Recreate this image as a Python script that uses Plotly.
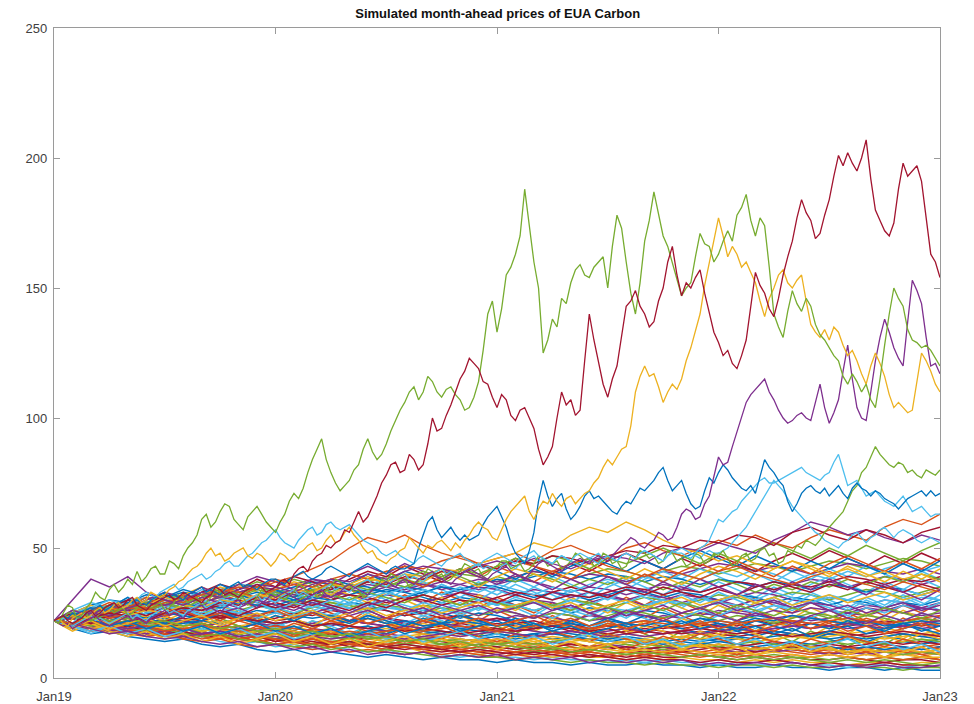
import pandas as pd
import plotly.graph_objects as go

# ---- time grids -------------------------------------------------------------
START, END = "2019-01-01", "2023-01-01"
fine_dates = pd.date_range(START, END, periods=193)    # quarter-month steps
month_dates = pd.date_range(START, END, periods=49)    # monthly steps

# ---- highlighted simulated paths (quarter-month steps, EUR/t) --------------
green_high = [22,21,25,28,27,23,24,27,29,33,31,30,34,36,33,35,38,36,41,37,39,42,43,40,40,45,44,42,47,50,52,55,61,63,58,60,64,67,66,61,59,57,62,64,66,63,60,58,56,
              60,63,68,71,69,73,79,84,88,92,84,79,75,72,74,76,80,82,88,92,87,84,86,90,95,99,103,106,110,112,107,110,116,114,110,108,111,112,109,107,103,104,108,114,126,140,145,133,
              142,155,158,163,170,188,173,160,150,125,130,138,135,146,144,152,157,159,155,154,158,160,162,150,166,178,173,160,148,140,152,168,176,187,178,170,166,160,154,147,150,152,162,171,167,166,160,163,
              168,172,168,178,181,186,176,170,177,174,158,140,135,131,141,149,144,141,146,143,136,132,130,127,124,122,116,113,117,114,110,113,107,104,115,128,140,150,146,143,134,130,129,127,128,126,123,120]
red_high = [22,23,24,22,21,22,23,25,26,24,25,27,28,29,27,28,30,31,28,27,26,28,29,30,31,32,30,31,33,32,31,30,29,31,32,35,34,32,33,32,31,33,34,35,36,35,33,34,35,
            37,38,36,40,42,43,41,45,47,48,51,50,52,53,57,56,60,64,60,62,66,70,75,78,82,83,79,80,86,84,80,82,90,100,95,96,101,105,110,115,118,123,121,119,114,113,108,104,
            109,107,101,99,103,104,100,96,88,82,85,89,100,110,105,107,101,103,122,140,130,122,113,108,115,120,131,143,145,149,143,140,135,137,145,150,160,166,155,147,152,150,154,157,148,141,133,129,
            124,126,121,119,124,130,143,156,151,148,142,139,146,155,162,168,177,184,179,176,169,171,178,184,193,201,197,202,198,195,200,207,192,180,176,172,170,175,188,198,193,195,197,191,178,163,160,154]
yellow_high = [22,23,21,20,23,24,25,23,24,26,27,25,26,28,29,27,28,30,31,29,30,33,32,31,32,34,35,37,38,40,42,43,45,48,50,47,48,45,46,48,49,50,47,46,48,47,45,43,45,
               48,47,45,46,48,49,51,52,49,50,53,55,52,53,56,58,55,53,50,48,49,46,45,44,46,47,49,50,54,52,50,48,51,50,52,53,51,49,52,50,53,55,58,60,58,57,54,53,
               57,61,64,66,68,70,64,61,65,68,67,71,68,66,69,70,67,69,71,72,75,77,81,84,82,85,88,89,97,110,116,120,116,117,112,106,110,113,111,115,122,127,134,140,151,160,168,177,
               170,162,166,163,158,160,156,152,145,139,146,150,155,157,152,150,153,155,145,136,133,131,134,130,135,133,128,124,126,122,117,113,120,125,121,116,109,104,106,104,102,103,114,125,122,118,113,110]
purple_high = [22,21,20,21,19,20,21,22,23,24,22,21,20,21,22,23,24,22,23,22,21,23,24,25,26,24,25,24,23,25,26,27,28,26,27,26,25,27,28,29,30,28,29,28,27,29,30,32,31,
               32,33,32,31,30,29,31,32,33,34,32,31,32,33,35,36,35,34,33,32,34,35,36,37,36,35,37,38,37,36,38,39,40,41,39,38,37,36,38,39,41,42,41,40,39,38,40,41,
               42,43,41,40,39,38,40,42,44,45,44,43,42,41,43,44,45,46,45,44,46,47,46,45,47,49,51,52,54,53,51,50,52,53,56,55,53,54,58,63,65,64,61,62,67,70,78,85,
               82,83,89,95,101,106,109,111,113,115,110,107,103,100,98,99,101,102,100,99,106,113,104,98,102,107,118,128,115,104,100,99,110,122,131,138,133,127,123,120,137,153,149,144,131,120,121,117]
blue_high = [22,23,24,23,25,24,23,25,26,27,28,26,27,28,29,30,31,29,30,29,28,30,31,32,33,31,32,31,30,32,33,34,35,33,34,33,32,34,35,36,37,35,36,35,34,36,37,38,38,
             37,36,38,39,40,41,39,38,39,40,42,43,42,41,40,39,41,42,43,44,43,42,41,40,42,43,42,42,43,44,50,55,60,62,57,54,56,58,55,53,55,53,54,55,59,62,64,66,
             62,58,52,48,46,44,49,56,68,76,70,66,69,71,65,61,63,66,70,72,69,70,68,66,64,63,66,68,67,70,73,72,74,76,79,81,76,72,74,76,71,67,65,66,72,77,75,79,
             82,80,77,75,73,72,74,71,78,84,81,79,76,74,68,64,67,71,73,74,72,71,73,70,72,74,71,69,73,75,73,72,70,72,71,69,68,67,65,67,69,70,71,72,70,72,70,71]
lightblue_high = [22,22,23,22,21,23,24,25,26,24,25,26,27,28,29,27,28,29,30,32,33,32,31,33,34,35,36,34,35,37,38,39,40,38,39,41,42,44,45,43,43,45,47,48,50,52,53,55,57,
                  54,52,51,50,53,55,57,58,55,56,59,60,58,57,58,59,57,55,53,52,51,50,48,47,48,49,47,46,45,44,46,47,46,45,44,43,45,46,47,48,46,45,44,43,45,46,47,48,
                  47,46,45,44,46,47,48,49,47,46,45,44,46,47,46,45,47,48,47,46,45,44,46,47,46,45,47,48,47,46,48,49,48,47,46,45,47,49,48,48,47,46,48,50,51,53,57,61,
                  60,62,64,65,68,70,72,74,76,77,75,75,76,77,78,79,80,81,79,78,77,76,78,79,83,86,80,74,75,76,73,70,71,72,70,68,67,66,68,70,67,64,65,66,64,62,63,63]
lightblue_mid = [22,21,21,20,20,21,22,23,24,22,23,22,21,22,23,24,25,23,24,23,22,24,25,26,27,25,26,25,24,26,27,28,29,27,28,29,30,28,29,28,27,29,30,31,32,30,31,30,29,
                 31,32,33,34,32,33,32,31,33,34,35,36,34,35,34,33,35,36,37,38,36,37,36,35,37,38,39,40,38,39,38,37,39,40,41,42,40,41,40,39,41,42,43,44,42,43,42,41,
                 43,44,43,42,44,45,46,47,45,46,45,44,46,47,46,45,44,43,45,46,47,48,46,47,46,45,47,48,47,46,48,49,48,47,46,45,47,48,49,50,49,48,47,46,48,49,48,48,
                 49,50,52,54,56,58,61,64,67,70,73,76,74,72,69,66,64,62,60,58,56,55,53,52,51,50,52,53,55,56,54,52,54,55,57,58,56,54,56,57,56,55,53,52,53,54,53,52]
green_mid = [22,21,23,25,25,23,24,25,22,23,25,27,27,25,26,27,24,25,27,29,29,27,28,29,26,27,29,32,31,29,30,31,28,29,31,34,33,31,32,33,30,31,28,29,31,34,33,31,32,
             31,30,32,33,36,35,33,34,31,32,34,35,38,37,35,36,33,34,31,32,34,35,38,37,40,39,37,38,35,36,38,39,42,41,39,40,37,38,40,41,44,43,41,42,39,40,42,43,
             45,45,42,43,44,41,42,44,47,46,43,44,45,42,43,45,48,47,45,46,43,44,48,47,44,45,42,43,47,46,49,48,46,47,44,45,49,48,45,46,43,44,48,47,44,45,48,47,
             49,46,43,44,47,48,45,46,49,50,47,48,44,45,49,48,51,50,53,52,51,53,56,58,60,62,64,68,72,74,79,81,85,89,86,84,82,81,83,82,79,80,78,77,80,79,78,80]

# ---- remaining simulated paths (monthly steps, EUR/t) ----------------------
orange_a = [22,24,23,26,28,27,30,29,32,34,33,31,34,36,35,38,40,38,41,43,42,45,47,44,46,48,45,49,51,48,46,50,52,49,47,50,53,51,55,52,50,54,57,55,53,58,61,59,63]
orange_b = [22,21,23,25,27,26,29,31,30,33,35,34,37,39,42,45,50,54,52,55,51,48,46,44,42,45,43,41,44,46,43,41,39,42,40,38,41,43,40,38,36,39,41,38,36,34,37,35,33]
yellow_b = [22,24,23,21,24,26,25,28,27,30,29,32,31,34,33,36,35,38,37,40,39,42,41,44,46,48,52,50,55,58,56,60,57,53,50,48,45,47,44,42,45,43,40,42,39,41,38,40,37]
purple_b = [22,30,38,35,39,33,30,28,31,29,27,30,28,26,29,27,25,28,30,27,25,28,26,24,27,25,23,26,28,25,23,26,24,22,25,27,24,22,25,23,21,24,26,23,21,24,22,25,23]
purple_c = [22,23,25,24,27,29,28,30,33,31,34,36,35,33,36,38,37,40,38,41,43,42,40,43,45,43,46,44,42,45,47,46,44,48,50,49,52,50,48,53,56,60,58,55,57,54,52,55,53]
red_c = [22,20,23,25,24,22,25,27,26,29,28,31,30,33,32,35,34,37,36,39,38,41,40,43,42,45,44,47,46,44,47,49,48,51,50,53,52,55,54,51,56,58,55,53,57,55,52,56,58]

low_01 = [22,19,17,18,16,15,14,15,13,12,13,11,10,11,9,10,9,8,9,8,7,8,7,7,6,7,6,6,5,6,5,5,6,5,5,4,5,4,4,5,4,4,3,4,4,3,4,3,3]
low_02 = [22,20,21,18,17,18,16,15,16,14,13,14,12,13,11,12,11,10,11,9,10,9,8,9,8,8,7,8,7,7,6,7,6,7,6,6,5,6,5,5,6,5,5,4,5,5,4,5,4]
low_03 = [22,23,20,19,20,18,17,18,16,17,15,14,15,13,14,12,13,12,11,12,10,11,10,9,10,9,9,8,9,8,8,7,8,7,8,7,7,6,7,6,7,6,6,5,6,6,5,6,6]
low_04 = [22,21,19,20,18,19,17,16,17,15,16,14,13,14,12,13,14,12,11,12,11,10,11,10,9,10,9,10,9,8,9,8,9,8,8,9,8,7,8,7,8,7,7,8,7,6,7,7,6]
low_05 = [22,24,22,20,21,19,20,18,19,17,18,16,17,15,16,14,15,13,14,13,12,13,12,11,12,11,10,11,10,11,10,9,10,9,10,9,8,9,8,9,8,8,7,8,7,8,7,8,7]
low_06 = [22,20,18,19,17,16,17,15,14,15,13,12,13,12,11,12,10,11,10,9,10,9,10,9,8,9,8,9,10,9,8,9,8,9,10,9,10,9,10,11,10,9,10,9,10,11,10,9,10]
low_07 = [22,21,23,21,19,20,18,17,18,16,15,16,14,15,13,14,12,13,12,11,12,11,12,13,12,11,12,11,10,11,12,11,10,11,10,11,12,11,10,11,12,11,12,11,12,13,12,11,12]
low_08 = [22,23,21,22,20,18,19,17,18,16,17,15,16,14,15,13,14,13,12,13,14,13,12,13,14,13,12,11,12,11,12,13,12,11,12,13,12,13,14,13,12,13,14,13,14,13,14,15,14]
low_09 = [22,24,23,21,22,20,21,19,20,18,19,17,18,16,17,15,16,15,14,15,16,15,14,15,14,13,14,15,14,15,16,15,14,15,16,15,16,15,14,15,16,15,16,17,16,15,16,17,16]
low_10 = [22,20,21,19,20,18,17,18,16,17,15,16,14,15,14,13,14,13,12,13,12,11,10,11,10,9,10,9,8,9,8,7,8,7,7,6,7,6,6,7,6,5,6,5,5,6,5,5,4]
low_11 = [22,21,20,21,19,18,19,17,16,17,15,14,13,12,13,11,12,10,11,10,9,8,9,8,8,7,8,7,6,7,6,6,5,6,5,5,4,5,5,4,5,4,4,5,4,4,3,4,4]
low_12 = [22,23,24,22,23,21,22,20,21,19,20,18,19,17,18,16,17,15,16,15,14,15,13,14,13,12,13,12,11,12,11,10,11,10,11,10,9,10,9,10,9,8,9,8,9,8,9,8,8]

mid_01 = [22,24,26,25,23,24,22,23,21,22,20,21,19,20,18,19,17,18,19,18,17,18,16,17,18,17,16,17,18,17,16,17,16,15,16,17,16,17,18,17,16,17,18,17,18,19,18,17,18]
mid_02 = [22,21,23,22,24,23,21,22,24,23,25,24,22,23,25,24,22,21,23,22,20,21,19,20,21,20,19,20,18,19,20,19,21,20,19,20,21,20,22,21,20,21,19,20,21,22,21,20,21]
mid_03 = [22,20,19,21,20,22,21,19,20,18,19,21,20,22,21,23,22,24,23,21,22,20,21,23,22,24,23,25,24,22,23,21,22,24,23,25,24,26,25,23,24,22,23,25,24,26,25,24,25]
mid_04 = [22,23,22,20,21,19,18,19,17,18,16,17,15,16,17,16,15,16,14,15,16,15,14,15,16,15,16,17,16,15,16,15,14,15,16,15,14,15,14,13,14,13,14,15,14,13,14,13,14]
mid_05 = [22,24,23,25,27,26,24,25,23,24,22,23,21,22,20,21,22,21,20,21,19,20,21,20,19,18,19,20,19,18,17,18,19,18,17,18,17,16,17,18,17,16,17,16,17,18,17,16,17]
mid_06 = [22,21,20,18,19,17,18,19,18,20,19,21,20,19,21,20,22,21,20,22,21,23,22,21,23,22,24,23,22,24,23,25,24,23,25,24,26,25,24,26,25,27,26,25,27,26,28,27,26]
mid_07 = [22,23,21,22,20,21,23,22,21,19,20,18,19,17,18,16,17,18,17,19,18,17,19,18,17,16,17,15,16,15,14,15,14,13,14,13,14,13,12,13,12,13,12,11,12,11,12,11,12]
mid_08 = [22,20,22,24,23,25,24,26,25,23,24,22,23,25,24,26,25,27,26,24,25,23,24,22,23,21,22,20,21,19,20,21,20,19,20,21,20,19,20,21,22,21,20,21,22,21,22,23,22]
mid_09 = [22,24,25,23,24,22,21,22,20,21,19,18,19,18,17,18,17,16,17,16,15,16,15,14,15,14,13,14,13,12,13,12,11,12,11,12,11,10,11,10,11,10,9,10,9,10,9,10,9]
mid_10 = [22,21,22,20,21,19,20,21,22,21,23,22,21,22,20,21,19,20,18,19,17,18,17,16,17,16,17,18,17,16,15,16,15,14,15,14,15,16,15,16,17,16,15,16,15,16,17,16,15]
mid_11 = [22,23,25,24,22,23,21,20,21,19,20,18,17,18,16,17,16,15,16,14,15,14,13,14,13,12,13,12,13,12,11,12,11,12,13,12,13,12,13,14,13,12,13,12,13,14,13,14,13]
mid_12 = [22,20,19,20,18,17,18,16,17,18,17,19,18,17,19,18,20,19,18,20,19,21,20,19,18,19,18,17,18,17,16,17,16,17,18,17,18,19,18,19,20,19,20,19,20,21,20,19,20]
mid_13 = [22,24,23,22,24,23,25,24,23,25,24,26,25,24,23,24,22,23,21,22,20,21,22,21,20,21,19,20,21,20,22,21,20,22,21,23,22,21,23,22,24,23,22,21,22,20,21,22,21]
mid_14 = [22,21,19,20,21,20,19,20,18,19,17,18,19,18,17,18,16,17,15,16,17,16,15,14,15,14,15,16,15,14,13,14,15,14,13,12,13,12,11,12,11,12,11,10,11,10,11,10,11]
mid_15 = [22,23,22,24,23,21,22,23,22,24,23,22,21,22,20,21,20,19,20,18,19,18,17,18,19,18,19,20,19,18,19,17,18,17,18,19,18,17,18,17,16,17,18,17,16,17,18,17,16]
mid_16 = [22,20,21,22,21,20,18,19,20,19,18,19,20,19,18,17,18,17,18,19,18,19,20,19,18,19,20,21,20,19,20,21,22,21,20,21,22,21,22,23,22,21,22,23,22,21,22,23,24]

up_01 = [22,25,27,26,29,31,30,28,31,33,32,30,32,34,33,31,34,36,35,33,35,37,36,34,36,38,37,35,33,35,34,32,34,36,35,33,35,37,36,34,36,38,37,35,37,39,38,36,38]
up_02 = [22,24,26,28,27,30,32,31,29,31,33,35,34,32,34,36,35,37,39,38,36,38,40,39,37,39,41,40,38,40,42,41,39,41,43,42,40,42,44,43,41,43,45,44,42,44,46,45,43]
up_03 = [22,23,25,24,27,26,28,27,29,31,30,28,30,29,31,33,32,30,32,31,29,31,33,32,30,28,30,29,27,29,31,30,28,30,32,31,29,31,33,32,30,29,31,30,28,30,29,27,29]
up_04 = [22,21,23,25,24,26,28,27,25,27,29,28,26,28,30,29,27,29,28,26,28,27,25,27,29,28,26,28,30,29,27,29,31,30,28,30,32,31,29,31,33,32,30,32,34,33,31,33,35]
up_05 = [22,24,23,25,27,29,28,26,28,30,29,31,33,32,30,32,34,33,35,37,36,34,36,38,37,39,41,40,38,40,39,37,39,41,40,42,44,43,41,43,42,40,42,44,43,41,40,42,40]
up_06 = [22,25,24,26,25,23,25,27,26,24,26,28,27,25,27,29,28,26,28,27,25,27,26,24,26,25,23,25,24,22,24,26,25,23,25,24,22,24,23,21,23,25,24,22,24,23,21,23,22]
up_07 = [22,23,26,25,27,29,28,30,32,31,33,35,34,36,38,37,35,37,36,34,36,35,33,35,34,32,34,33,31,33,32,30,32,31,29,31,30,28,30,29,27,29,28,26,28,27,25,27,26]
up_08 = [22,21,22,24,23,25,24,26,28,27,29,28,27,29,31,30,32,34,33,31,33,35,34,36,38,37,39,41,40,38,40,39,37,39,38,36,38,37,35,37,36,34,36,35,33,35,34,32,34]
up_09 = [22,24,27,26,28,27,25,27,26,28,30,29,27,29,28,30,32,31,29,31,30,28,30,29,31,33,32,30,32,31,33,35,34,32,34,33,35,37,36,34,36,35,37,39,38,36,38,37,39]
up_10 = [22,20,22,24,23,25,27,26,24,26,25,23,25,24,26,28,27,25,27,26,24,26,25,27,29,28,26,28,27,25,27,26,28,30,29,27,29,28,26,28,27,29,31,30,28,30,29,31,30]
up_11 = [22,25,23,27,30,28,32,29,33,36,34,38,35,39,37,34,38,41,39,43,40,37,41,44,42,46,43,40,44,41,45,48,45,42,46,43,47,44,41,45,48,45,49,46,43,47,44,48,45]
up_12 = [22,24,27,25,29,27,31,34,32,36,33,30,34,31,35,38,36,40,37,41,39,42,40,44,41,38,42,39,43,46,44,41,45,42,46,49,46,43,47,44,41,45,42,46,43,40,44,41,45]
up_13 = [22,23,26,29,27,31,28,32,30,33,31,35,38,36,33,37,34,38,41,38,35,39,42,39,43,40,37,41,38,42,39,36,40,37,41,44,41,45,42,39,43,40,44,47,44,41,45,42,46]
up_14 = [22,21,24,27,25,28,31,29,32,35,33,30,34,37,35,32,36,39,36,40,37,41,38,35,39,42,40,37,41,44,41,38,42,39,36,40,43,41,38,42,45,42,39,43,40,37,41,38,42]
up_15 = [22,26,24,28,26,30,33,31,35,32,36,39,37,34,38,36,40,43,40,44,41,38,42,39,36,40,37,34,38,35,39,36,33,37,34,38,35,32,36,33,37,34,38,35,32,36,33,30,34]
up_16 = [22,24,22,25,28,26,29,27,30,33,31,34,32,29,33,36,34,37,35,38,41,39,42,40,43,46,44,47,45,42,46,44,47,50,47,44,48,45,49,52,49,46,50,47,51,48,45,49,52]

low_mid_01 = [22,21,19,18,19,17,16,17,15,16,14,15,13,14,13,12,13,12,11,12,11,12,11,10,11,10,11,10,9,10,9,10,9,10,11,10,11,10,11,12,11,10,11,12,11,12,11,12,13]
low_mid_02 = [22,23,21,20,18,19,17,18,16,15,16,14,15,14,13,14,13,12,13,12,11,12,11,12,11,10,11,10,11,10,9,10,9,10,9,8,9,8,9,8,9,8,9,8,7,8,7,8,7]
low_mid_03 = [22,20,21,19,18,19,17,16,17,16,15,16,15,14,15,14,13,14,13,14,13,12,13,14,13,14,13,12,13,12,13,14,13,12,13,12,11,12,11,12,11,10,11,10,11,10,11,10,11]
low_mid_04 = [22,24,22,21,22,20,21,19,18,19,17,18,17,16,17,16,15,16,15,14,15,14,15,14,13,14,13,14,15,14,13,14,13,12,13,12,13,12,11,12,11,12,11,10,11,10,9,10,9]
low_mid_05 = [22,21,22,20,19,20,18,19,17,18,16,17,16,15,16,15,16,17,16,15,16,17,16,17,18,17,16,17,18,17,18,19,18,17,18,19,20,19,18,19,20,19,20,21,20,19,20,21,22]

hump_01 = [22,24,26,28,30,29,31,33,32,34,36,35,33,35,37,36,34,32,34,33,31,29,31,30,28,30,29,27,25,27,26,24,26,25,23,25,24,22,24,23,21,23,22,20,22,21,19,21,20]
hump_02 = [22,25,28,30,29,32,31,29,31,33,32,30,28,30,29,27,29,28,26,24,26,25,23,25,24,22,20,22,21,19,21,20,18,20,19,17,19,18,16,18,17,15,17,16,14,16,15,13,15]
hump_03 = [22,23,25,27,26,28,30,29,27,29,31,33,32,30,32,34,36,35,33,35,34,32,34,36,35,33,31,33,32,30,32,34,33,31,33,32,30,32,31,29,31,30,28,30,29,27,29,28,30]

rough_01 = [22,26,24,28,25,29,27,31,28,32,30,27,31,28,33,30,34,31,28,32,29,33,30,27,31,28,25,29,26,30,27,31,28,32,29,26,30,27,31,28,25,29,26,23,27,24,28,25,29]
rough_02 = [22,19,23,20,24,21,18,22,19,23,20,17,21,18,22,19,16,20,17,21,18,22,19,16,20,17,21,18,15,19,16,20,17,14,18,15,19,16,13,17,14,18,15,12,16,13,17,14,15]
rough_03 = [22,25,22,26,23,27,24,21,25,22,26,23,27,24,28,25,22,26,23,27,24,21,25,22,26,23,20,24,21,25,22,26,23,27,24,21,25,22,26,23,20,24,21,25,22,19,23,20,24]
rough_04 = [22,20,24,21,25,28,25,29,26,30,33,30,34,31,35,32,29,33,30,34,37,34,31,35,32,36,33,30,34,31,35,38,35,32,36,33,37,34,31,35,32,36,39,36,33,37,34,38,35]
rough_05 = [22,18,21,17,20,16,19,15,18,16,19,17,14,17,15,18,16,13,16,14,17,15,12,15,13,16,14,11,14,12,15,13,10,13,11,14,12,9,12,10,13,11,9,11,9,12,10,8,10]
rough_06 = [22,24,21,25,22,19,23,20,24,21,18,22,19,23,26,23,27,24,21,25,22,26,29,26,30,27,24,28,25,22,26,23,27,30,27,31,28,25,29,26,30,33,30,27,31,28,32,29,26]
rough_07 = [22,23,27,24,28,31,28,32,35,32,36,33,30,34,31,35,32,29,33,30,27,31,28,32,29,26,30,27,31,28,25,29,26,30,27,24,28,25,29,26,23,27,24,21,25,22,26,23,20]
rough_08 = [22,20,17,20,18,21,19,16,19,17,20,18,21,19,22,20,17,20,18,21,24,22,19,22,20,23,21,18,21,19,22,25,23,20,23,21,24,22,19,22,20,23,26,24,21,24,22,25,23]
rough_09 = [22,25,28,25,29,26,23,27,24,28,25,22,26,23,20,24,21,25,22,19,23,20,24,21,18,22,19,23,20,17,21,18,22,19,23,20,17,21,18,22,19,16,20,17,21,18,15,19,16]
rough_10 = [22,21,25,23,27,24,28,26,30,27,31,29,33,30,34,32,36,33,37,35,32,36,33,37,34,38,35,39,36,33,37,34,38,41,38,42,39,36,40,37,41,38,42,39,43,40,37,41,38]
rough_11 = [22,19,22,20,17,20,18,15,18,16,19,17,14,17,15,13,16,14,12,15,13,11,14,12,15,13,11,14,12,10,13,11,14,12,10,13,11,9,12,10,13,11,9,12,10,8,11,9,7]
rough_12 = [22,24,27,25,28,26,29,27,24,27,25,28,26,23,26,24,27,25,28,26,29,27,24,27,25,28,26,23,26,24,27,25,28,26,23,26,24,27,25,28,26,29,27,24,27,25,28,26,29]
rough_13 = [22,23,20,23,21,24,22,25,23,20,23,21,24,22,19,22,20,23,21,18,21,19,22,20,17,20,18,21,19,16,19,17,20,18,15,18,16,19,17,14,17,15,18,16,13,16,14,17,15]
rough_14 = [22,26,29,27,31,28,32,30,34,31,28,32,29,33,30,27,31,28,32,35,32,36,33,30,34,31,35,32,29,33,30,34,31,28,32,29,33,30,27,31,28,32,29,26,30,27,31,28,32]
rough_15 = [22,21,18,21,19,17,20,18,21,19,22,20,18,21,19,22,20,23,21,19,22,20,17,20,18,21,19,22,20,18,21,19,17,20,18,21,19,22,20,18,21,19,22,20,23,21,19,22,20]
rough_16 = [22,24,22,25,23,26,24,27,25,28,26,24,27,25,28,26,29,27,30,28,26,29,27,30,28,31,29,27,30,28,31,29,32,30,28,31,29,32,30,33,31,29,32,30,33,31,34,32,30]
rough_17 = [22,20,23,21,19,22,20,18,21,19,17,20,18,16,19,17,20,18,16,19,17,15,18,16,14,17,15,18,16,14,17,15,13,16,14,17,15,13,16,14,12,15,13,16,14,12,15,13,11]
rough_18 = [22,23,25,28,26,29,32,30,33,31,34,37,35,38,36,33,36,34,37,35,38,41,39,36,39,37,40,38,35,38,36,39,37,34,37,35,38,36,33,36,34,37,35,38,36,39,37,40,38]
rough_19 = [22,21,24,22,20,23,21,24,22,25,23,21,24,22,25,23,21,24,22,20,23,21,24,22,20,23,21,19,22,20,23,21,24,22,20,23,21,19,22,20,18,21,19,22,20,18,21,19,17]
rough_20 = [22,19,21,18,16,18,15,17,14,16,13,15,17,14,16,13,15,12,14,16,13,15,12,14,11,13,15,12,14,11,13,10,12,14,11,13,10,12,9,11,13,10,12,9,11,8,10,12,9]
rough_21 = [22,24,21,23,25,22,24,26,23,25,27,24,26,28,25,27,24,26,23,25,27,24,26,28,25,27,29,26,28,25,27,24,26,28,25,27,29,26,28,30,27,29,26,28,25,27,29,26,28]
rough_22 = [22,25,23,26,29,27,30,28,31,34,32,35,33,31,34,32,30,33,31,29,32,30,28,31,29,27,30,28,26,29,27,25,28,26,29,27,25,28,26,24,27,25,23,26,24,27,25,23,26]
rough_23 = [22,20,18,20,17,19,16,18,20,17,19,16,18,15,17,19,16,18,15,17,14,16,18,15,17,14,16,13,15,17,14,16,13,15,12,14,16,13,15,12,14,11,13,15,12,14,11,13,10]
rough_24 = [22,23,21,24,26,24,27,25,23,26,24,27,29,27,30,28,26,29,27,30,32,30,33,31,29,32,30,33,35,33,31,34,32,35,33,31,34,32,35,37,35,33,36,34,37,35,33,36,34]
rough_25 = [22,21,23,20,22,19,21,18,20,17,19,21,18,20,17,19,16,18,20,17,19,21,18,20,22,19,21,18,20,17,19,21,18,20,22,19,21,18,20,17,19,16,18,20,17,19,21,18,20]
rough_26 = [22,24,26,23,25,27,24,26,23,25,22,24,26,23,25,22,24,21,23,25,22,24,21,23,20,22,24,21,23,20,22,19,21,23,20,22,19,21,18,20,22,19,21,18,20,17,19,21,18]
rough_27 = [22,20,22,19,21,23,20,22,24,21,23,25,22,24,26,23,25,27,24,26,28,25,27,29,26,28,30,27,29,26,28,30,27,29,31,28,30,32,29,31,28,30,32,29,31,33,30,32,34]
rough_28 = [22,21,19,17,18,16,15,16,14,13,14,12,13,11,12,10,11,9,10,9,10,8,9,8,9,7,8,7,8,6,7,6,7,6,7,5,6,5,6,5,6,5,4,5,4,5,4,4,5]
rough_29 = [22,23,24,22,23,21,22,20,21,19,20,18,19,17,18,16,17,15,16,14,15,13,14,12,13,12,11,12,10,11,10,9,10,9,8,9,8,7,8,7,8,7,6,7,6,7,6,5,6]
rough_30 = [22,25,27,30,28,31,29,32,30,28,31,29,26,29,27,30,28,31,33,31,34,32,35,33,36,34,32,35,33,36,38,36,39,37,40,38,41,39,42,40,37,40,38,41,39,42,44,41,43]

# ---- colours (MATLAB default line order) -----------------------------------
BLUE, ORANGE, YELLOW, PURPLE = "#0072BD", "#D95319", "#EDB120", "#7E2F8E"
GREEN, CYAN, DARKRED = "#77AC30", "#4DBEEE", "#A2142F"
cycle = [BLUE, ORANGE, YELLOW, PURPLE, GREEN, CYAN, DARKRED]

monthly_paths = [low_01, rough_01, mid_01, up_01, rough_02, low_02, mid_02, hump_01, rough_03,
                 low_03, mid_03, up_02, rough_04, low_04, mid_04, low_mid_01, rough_05, up_03,
                 low_05, rough_06, mid_05, hump_02, low_06, rough_07, mid_06, up_04, rough_08,
                 low_07, mid_07, low_mid_02, rough_09, up_05, low_08, rough_10, mid_08, hump_03,
                 rough_11, low_09, mid_09, up_06, rough_12, low_10, mid_10, low_mid_03, rough_13,
                 up_07, low_11, rough_14, mid_11, up_08, rough_15, low_12, mid_12, low_mid_04,
                 rough_16, up_09, mid_13, rough_17, mid_14, low_mid_05, rough_18, up_10, mid_15,
                 rough_19, mid_16, rough_20, rough_21, rough_22, rough_23, rough_24, rough_25,
                 rough_26, rough_27, rough_28, rough_29, rough_30, up_11, up_12, up_13, up_14,
                 up_15, up_16]
special_paths = [(orange_a, ORANGE), (orange_b, ORANGE), (yellow_b, YELLOW),
                 (purple_b, PURPLE), (purple_c, PURPLE), (red_c, DARKRED)]
highlight_paths = [(lightblue_mid, CYAN), (green_mid, GREEN), (lightblue_high, CYAN),
                   (blue_high, BLUE), (purple_high, PURPLE), (yellow_high, YELLOW),
                   (green_high, GREEN), (red_high, DARKRED)]

fig = go.Figure()
for i, path in enumerate(monthly_paths):
    fig.add_trace(go.Scatter(x=month_dates, y=path, mode="lines",
                             line=dict(color=cycle[i % 7], width=1.5), hoverinfo="skip"))
for path, col in special_paths:
    fig.add_trace(go.Scatter(x=month_dates, y=path, mode="lines",
                             line=dict(color=col, width=1.4), hoverinfo="skip"))
for path, col in highlight_paths:
    fig.add_trace(go.Scatter(x=fine_dates, y=path, mode="lines",
                             line=dict(color=col, width=1.3), hoverinfo="skip"))

axis_common = dict(showline=True, linecolor="#9a9a9a", linewidth=1.3, mirror="ticks",
                   ticks="inside", ticklen=6, tickcolor="#9a9a9a", showgrid=False,
                   zeroline=False, automargin=False,
                   tickfont=dict(family="Liberation Sans", size=13, color="#404040"))

fig.update_layout(
    width=974, height=704,
    margin=dict(l=54, r=34, t=28, b=26),
    paper_bgcolor="white", plot_bgcolor="white",
    showlegend=False,
    title=dict(text="<b>Simulated month-ahead prices of EUA Carbon</b>",
               x=0.511, xanchor="center", y=0.981, yanchor="middle",
               font=dict(family="Liberation Sans", size=13, color="#111111")),
    xaxis=dict(range=[START, END], tickvals=pd.date_range(START, END, freq="YS"),
               tickformat="%b%y", ticklabelstandoff=6, **axis_common),
    yaxis=dict(range=[0, 250], tickvals=[0, 50, 100, 150, 200, 250],
               ticklabelstandoff=3, **axis_common),
)

fig.write_html("out.html")
